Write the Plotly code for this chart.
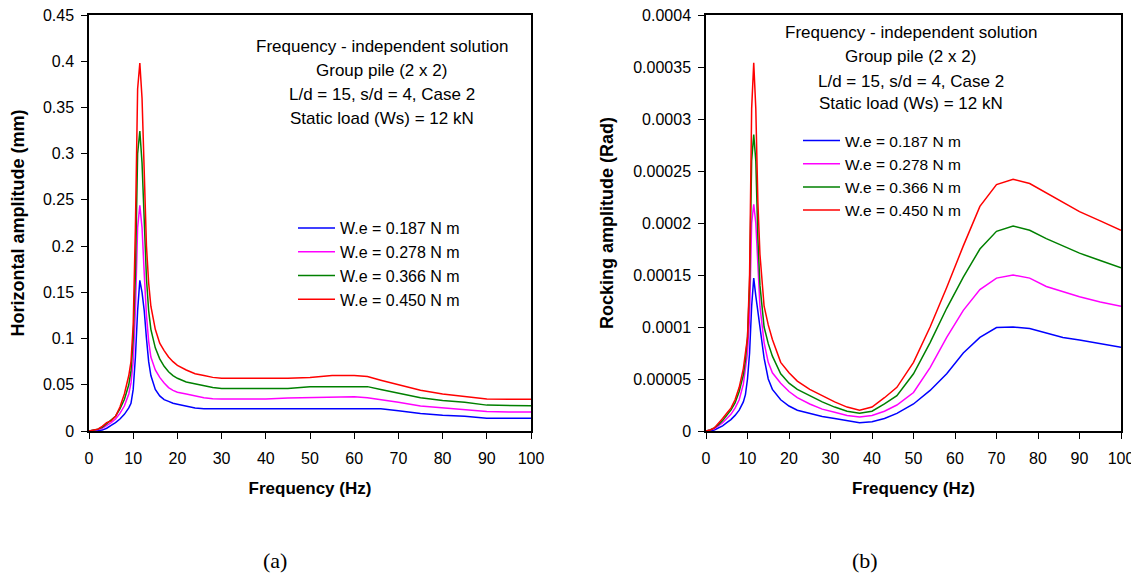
import plotly.graph_objects as go

# ---------------- data (a): horizontal amplitude (mm) ----------------
freq_h = [0, 1, 2, 3, 4, 5, 6, 7, 8, 9, 9.5, 10, 10.5, 11, 11.5, 12, 12.5, 13, 13.5, 14,
          15, 16, 17, 18, 19, 20, 22, 24, 26, 28, 30, 35, 40, 45, 50, 55, 60, 63, 66, 70,
          75, 80, 85, 90, 95, 100]
h_0187 = [0, 0, 0.0005, 0.001, 0.003, 0.006, 0.009, 0.013, 0.018, 0.025, 0.03, 0.045, 0.08, 0.13, 0.163, 0.15,
          0.13, 0.1, 0.075, 0.06, 0.045, 0.038, 0.034, 0.032, 0.03, 0.029, 0.027, 0.025, 0.0242, 0.0241,
          0.024, 0.024, 0.024, 0.024, 0.024, 0.024, 0.024, 0.024, 0.024, 0.022, 0.019, 0.017, 0.016, 0.0137,
          0.0137, 0.0137]
h_0278 = [0, 0.0005, 0.0015, 0.003, 0.006, 0.009, 0.013, 0.019, 0.027, 0.04, 0.052, 0.075, 0.13, 0.22, 0.244, 0.22,
          0.17, 0.125, 0.097, 0.08, 0.066, 0.058, 0.052, 0.047, 0.044, 0.042, 0.04, 0.038, 0.036, 0.035,
          0.0346, 0.0346, 0.0346, 0.0357, 0.036, 0.037, 0.037, 0.036, 0.034, 0.031, 0.027, 0.025, 0.023, 0.021,
          0.0206, 0.0206]
h_0366 = [0, 0.001, 0.002, 0.004, 0.008, 0.011, 0.016, 0.024, 0.034, 0.05, 0.065, 0.1, 0.17, 0.3, 0.3245, 0.29,
          0.22, 0.165, 0.13, 0.11, 0.09, 0.078, 0.07, 0.064, 0.06, 0.057, 0.053, 0.051, 0.049, 0.047,
          0.046, 0.046, 0.046, 0.046, 0.048, 0.048, 0.048, 0.048, 0.045, 0.041, 0.036, 0.033, 0.031, 0.028,
          0.0274, 0.0274]
h_0450 = [0, 0.001, 0.002, 0.005, 0.009, 0.011, 0.016, 0.026, 0.04, 0.06, 0.075, 0.115, 0.22, 0.37, 0.398, 0.36,
          0.28, 0.2, 0.16, 0.135, 0.11, 0.095, 0.087, 0.08, 0.075, 0.071, 0.066, 0.062, 0.06, 0.058,
          0.057, 0.057, 0.057, 0.057, 0.058, 0.06, 0.06, 0.059, 0.055, 0.05, 0.044, 0.04, 0.037, 0.0345,
          0.0343, 0.0343]

# ---------------- data (b): rocking amplitude (Rad) ----------------
freq_r = [0, 1, 2, 3, 4, 5, 6, 7, 8, 9, 9.5, 10, 10.5, 11, 11.5, 12, 12.5, 13, 14, 15, 16, 18, 20,
          22, 25, 28, 31, 34, 37, 40, 43, 46, 50, 54, 58, 62, 66, 70, 74, 78, 82, 86, 90, 95, 100]
r_0187 = [0, 0, 0.000001, 0.000003, 0.000005, 0.000008, 0.000011, 0.000015, 0.00002, 0.000028, 0.000035,
          0.00005, 0.000075, 0.00012, 0.000147, 0.00013, 0.000115, 0.000095, 0.00007, 0.00005, 0.00004,
          0.00003, 0.000024, 0.00002, 0.000017, 0.000014, 0.000012, 0.00001, 0.000008, 0.000009, 0.000012,
          0.000017, 0.000026, 0.000039, 0.000055, 0.000075, 0.00009, 0.0000995, 0.0001, 0.0000985, 0.000094,
          0.00009, 0.0000875, 0.000084, 0.0000805]
r_0278 = [0, 0.000001, 0.000002, 0.000005, 0.000008, 0.000012, 0.000016, 0.000022, 0.00003, 0.000045, 0.000058,
          0.000075, 0.00011, 0.0002, 0.000218, 0.0002, 0.00016, 0.00012, 0.000085, 0.000066, 0.000056,
          0.000046, 0.000038, 0.000032, 0.000026, 0.000021, 0.000018, 0.000015, 0.0000135, 0.000015, 0.000019,
          0.000025, 0.000037, 0.000061, 0.00009, 0.000116, 0.000136, 0.000147, 0.00015, 0.000147, 0.000139,
          0.000134, 0.000129, 0.000124, 0.00012]
r_0366 = [0, 0.000001, 0.000003, 0.000006, 0.00001, 0.000015, 0.00002, 0.000027, 0.000038, 0.000054, 0.000068,
          0.00009, 0.00014, 0.00026, 0.000285, 0.00026, 0.000185, 0.00014, 0.0001, 0.000084, 0.000072,
          0.000055, 0.000046, 0.00004, 0.000034, 0.000028, 0.000023, 0.000019, 0.000017, 0.000019, 0.000026,
          0.000034, 0.000055, 0.000085, 0.000118, 0.000148, 0.000175, 0.000192, 0.000197, 0.000193, 0.000185,
          0.000178, 0.000171, 0.000164, 0.000157]
r_0450 = [0, 0.000001, 0.000003, 0.000007, 0.000012, 0.000017, 0.000022, 0.00003, 0.000042, 0.00006, 0.000075,
          0.00009, 0.00015, 0.00031, 0.000354, 0.00031, 0.00022, 0.00017, 0.00012, 0.000102, 0.000088,
          0.000066, 0.000056, 0.000048, 0.00004, 0.000034, 0.000028, 0.000023, 0.00002, 0.000023, 0.000032,
          0.000042, 0.000066, 0.0001, 0.000138, 0.000178, 0.000216, 0.000237, 0.000242, 0.000238, 0.000229,
          0.00022, 0.000211, 0.000202, 0.000193]

series_names = ["W.e = 0.187 N m", "W.e = 0.278 N m", "W.e = 0.366 N m", "W.e = 0.450 N m"]
series_colors = ["#0000FF", "#FF00FF", "#008000", "#FF0000"]

x_ticks = [0, 10, 20, 30, 40, 50, 60, 70, 80, 90, 100]
y_ticks_h = [0, 0.05, 0.1, 0.15, 0.2, 0.25, 0.3, 0.35, 0.4, 0.45]
y_text_h = ["0", "0.05", "0.1", "0.15", "0.2", "0.25", "0.3", "0.35", "0.4", "0.45"]
y_ticks_r = [0, 0.00005, 0.0001, 0.00015, 0.0002, 0.00025, 0.0003, 0.00035, 0.0004]
y_text_r = ["0", "0.00005", "0.0001", "0.00015", "0.0002", "0.00025", "0.0003", "0.00035", "0.0004"]

info_lines = ["Frequency - independent solution", "Group pile (2 x 2)",
              "L/d = 15, s/d = 4, Case 2", "Static load (Ws) = 12 kN"]

# ---------------- figure ----------------
# the page body has an 8px margin, so the figure is 8px smaller and offset
OFF = 8
W, H = 1139 - OFF, 575 - OFF
ML, MR, MT, MB = 89 - OFF, 18, 15 - OFF, 144
PW, PH = W - ML - MR, H - MT - MB


def px_x(px):
    return (px - OFF - ML) / PW


def px_y(py):
    return (H - MB - (py - OFF)) / PH


fig = go.Figure()
h_series = [h_0187, h_0278, h_0366, h_0450]
r_series = [r_0187, r_0278, r_0366, r_0450]
for name, col, ys in zip(series_names, series_colors, h_series):
    fig.add_trace(go.Scatter(x=freq_h, y=ys, mode="lines", name=name,
                             line=dict(color=col, width=1.5),
                             xaxis="x", yaxis="y", legend="legend"))
for name, col, ys in zip(series_names, series_colors, r_series):
    fig.add_trace(go.Scatter(x=freq_r, y=ys, mode="lines", name=name,
                             line=dict(color=col, width=1.5),
                             xaxis="x2", yaxis="y2", legend="legend2"))

FONT = "Liberation Sans, Arial, sans-serif"
axis_common = dict(showgrid=False, zeroline=False, showline=True, linecolor="black",
                   linewidth=1.5, mirror=True, ticks="outside", ticklen=6, tickwidth=1,
                   tickcolor="black", ticklabeloverflow="allow",
                   tickfont=dict(family=FONT, size=16, color="black"))

xcommon = dict(axis_common, range=[0, 100], tickvals=x_ticks, ticklabelstandoff=6,
               title=dict(text="<b>Frequency (Hz)</b>", font=dict(family=FONT, size=17, color="black"),
                          standoff=16))

fig.update_layout(
    width=W, height=H,
    margin=dict(l=ML, r=MR, t=MT, b=MB, autoexpand=False),
    paper_bgcolor="white", plot_bgcolor="white",
    font=dict(family=FONT, color="black"),
    xaxis=dict(xcommon, domain=[0, px_x(531)], anchor="y"),
    xaxis2=dict(xcommon, domain=[px_x(706), 1], anchor="y2"),
    yaxis=dict(axis_common, range=[0, 0.45], tickvals=y_ticks_h, ticktext=y_text_h,
               ticklabelstandoff=4, anchor="x",
               title=dict(text="<b>Horizontal amplitude (mm)</b>",
                          font=dict(family=FONT, size=18, color="black"), standoff=16)),
    yaxis2=dict(axis_common, range=[0, 0.0004], tickvals=y_ticks_r, ticktext=y_text_r,
                ticklabelstandoff=4, anchor="x2",
                title=dict(text="<b>Rocking amplitude (Rad)</b>",
                           font=dict(family=FONT, size=18, color="black"), standoff=15)),
    legend=dict(x=px_x(293), y=px_y(211), xanchor="left", yanchor="top",
                bgcolor="rgba(0,0,0,0)", borderwidth=0, itemwidth=37,
                font=dict(family=FONT, size=16, color="black"), tracegroupgap=0),
    legend2=dict(x=px_x(798), y=px_y(124), xanchor="left", yanchor="top",
                 bgcolor="rgba(0,0,0,0)", borderwidth=0, itemwidth=37,
                 font=dict(family=FONT, size=15.5, color="black"), tracegroupgap=0),
    showlegend=True,
)

left_info_y = [46.7, 71, 94.5, 118]
right_info_y = [32.3, 56.7, 81, 103.3]
for txt, yy in zip(info_lines, left_info_y):
    fig.add_annotation(text=txt, x=px_x(381.5), y=px_y(yy), xref="paper", yref="paper",
                       xanchor="center", yanchor="middle", showarrow=False,
                       font=dict(family=FONT, size=17, color="black"))
for txt, yy in zip(info_lines, right_info_y):
    fig.add_annotation(text=txt, x=px_x(910.5), y=px_y(yy), xref="paper", yref="paper",
                       xanchor="center", yanchor="middle", showarrow=False,
                       font=dict(family=FONT, size=17, color="black"))

for lab, cx in [("(a)", 274.5), ("(b)", 865)]:
    fig.add_annotation(text=lab, x=px_x(cx), y=px_y(560), xref="paper", yref="paper",
                       xanchor="center", yanchor="middle", showarrow=False,
                       font=dict(family="Liberation Serif, Times New Roman, serif", size=22, color="black"))

fig.write_html("out.html")
